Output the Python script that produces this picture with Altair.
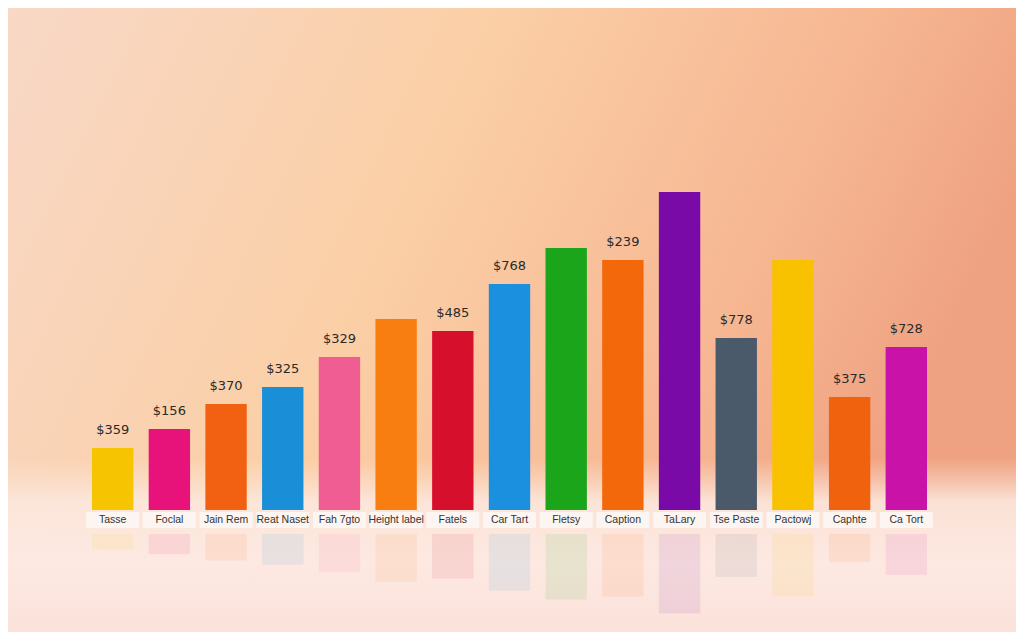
import altair as alt
import pandas as pd

categories = ["Tasse", "Foclal", "Jain Rem", "Reat Naset", "Fah 7gto", "Height label",
              "Fatels", "Car Tart", "Fletsy", "Caption", "TaLary", "Tse Paste",
              "Pactowj", "Caphte", "Ca Tort"]
keys = [f"{i:02d}" for i in range(len(categories))]
values = [62, 81, 106, 123, 153, 191, 179, 226, 262, 250, 318, 172, 250, 113, 163]
value_labels = ["$359", "$156", "$370", "$325", "$329", "", "$485", "$768", "", "$239",
                "", "$778", "", "$375", "$728"]
colors = ["#f6c400", "#e8137a", "#f26012", "#1a8fd8", "#ef5d92", "#f87e12", "#d6102c",
          "#1a90de", "#1aa51a", "#f4680c", "#7a0aa8", "#4b5a6a", "#f9c200", "#f0620e", "#c812a8"]

W, H = 1008, 624
df = pd.DataFrame({"key": keys, "cat": categories, "value": values,
                   "label": value_labels, "color": colors})
df["r_top"] = -24
df["r_bot"] = -24 - df["value"] * 0.25

xs = alt.X("key:N", axis=None,
           scale=alt.Scale(range=[84, 919], paddingInner=0.27, paddingOuter=0))
ysc = alt.Scale(domain=[0, 400], range=[502, 102])

one = alt.Data(values=[{"a": 0}])

bg = alt.Chart(one).mark_rect(
    color=alt.LinearGradient(gradient="linear", x1=0, y1=0, x2=1, y2=0.3, stops=[
        alt.GradientStop(color="#f8d8c6", offset=0),
        alt.GradientStop(color="#fbcfa6", offset=0.45),
        alt.GradientStop(color="#f6b692", offset=0.8),
        alt.GradientStop(color="#efa282", offset=1)])
).encode(x=alt.value(0), x2=alt.value(W), y=alt.value(0), y2=alt.value(H))

floor = alt.Chart(one).mark_rect(
    color=alt.LinearGradient(gradient="linear", x1=0, y1=0, x2=0, y2=1, stops=[
        alt.GradientStop(color="rgba(252,228,214,0)", offset=0),
        alt.GradientStop(color="rgba(252,232,222,0.9)", offset=0.25),
        alt.GradientStop(color="#fde9e2", offset=0.6),
        alt.GradientStop(color="#fbe2da", offset=1)])
).encode(x=alt.value(0), x2=alt.value(W), y=alt.value(450), y2=alt.value(H))

base = alt.Chart(df)

reflect = base.mark_bar(opacity=0.09).encode(
    x=xs, y=alt.Y("r_top:Q", scale=ysc, axis=None), y2="r_bot:Q",
    color=alt.Color("color:N", scale=None))

bars = base.mark_bar().encode(
    x=xs, y=alt.Y("value:Q", scale=ysc, axis=None),
    color=alt.Color("color:N", scale=None))

labels = base.mark_text(dy=-18, fontSize=13, font="DejaVu Sans", color="#2a2a2a").encode(
    x=xs, y=alt.Y("value:Q", scale=ysc), text="label:N")

boxes = base.mark_bar(size=53, color="#fdf6f2", opacity=0.95).encode(
    x=xs, y=alt.value(504), y2=alt.value(520))

cat_text = base.mark_text(fontSize=10.5, font="Liberation Sans", color="#333333").encode(
    x=xs, y=alt.value(512), text="cat:N")

chart = alt.layer(bg, floor, reflect, bars, labels, boxes, cat_text).properties(
    width=W, height=H, padding=0
).configure_view(stroke=None).configure(background="#f8d6c0")

chart.save("out.html", embed_options={"renderer": "svg", "actions": False})
